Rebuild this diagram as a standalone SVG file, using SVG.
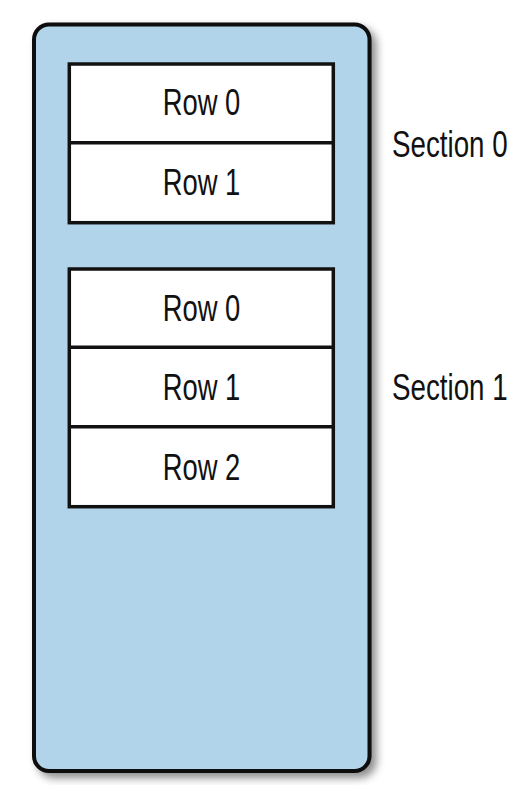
<svg xmlns="http://www.w3.org/2000/svg" width="525" height="785" viewBox="0 0 525 785">
<style>
.row{fill:#fff;stroke:#111;stroke-width:3.5}
.div{stroke:#111;stroke-width:3.5}
.t{font-family:"Liberation Sans",Arial,sans-serif;font-size:37.5px;fill:#111;text-anchor:middle}
.s{font-family:"Liberation Sans",Arial,sans-serif;font-size:37.5px;fill:#111}
</style>
<defs>
<filter id="sh" x="-10%" y="-10%" width="130%" height="130%">
<feDropShadow dx="5" dy="5" stdDeviation="4" flood-color="#000" flood-opacity="0.45"/>
</filter>
</defs>
<rect width="525" height="785" fill="#fff"/>
<g id="table">
<rect x="34" y="24.5" width="335.5" height="746.5" rx="15" fill="#b1d4ea" stroke="#0a0a0a" stroke-width="4" filter="url(#sh)"/>
</g>
<g id="section0">
<rect class="row" x="69.3" y="64" width="264" height="158.7"/>
<line class="div" x1="69.3" y1="142.7" x2="333.3" y2="142.7"/>
<g id="s0r0" transform="translate(201.5 115) scale(0.73 1)"><text class="t">Row 0</text></g>
<g id="s0r1" transform="translate(201.5 195) scale(0.73 1)"><text class="t">Row 1</text></g>
</g>
<g id="section1">
<rect class="row" x="69.3" y="269" width="264" height="237.7"/>
<line class="div" x1="69.3" y1="347.3" x2="333.3" y2="347.3"/>
<line class="div" x1="69.3" y1="426.7" x2="333.3" y2="426.7"/>
<g id="s1r0" transform="translate(201.5 321) scale(0.73 1)"><text class="t">Row 0</text></g>
<g id="s1r1" transform="translate(201.5 400) scale(0.73 1)"><text class="t">Row 1</text></g>
<g id="s1r2" transform="translate(201.5 480) scale(0.73 1)"><text class="t">Row 2</text></g>
</g>
<g id="labels">
<g transform="translate(392 157) scale(0.74 1)"><text class="s">Section 0</text></g>
<g transform="translate(392 400) scale(0.74 1)"><text class="s">Section 1</text></g>
</g>
<g id="connectors"/>
</svg>
